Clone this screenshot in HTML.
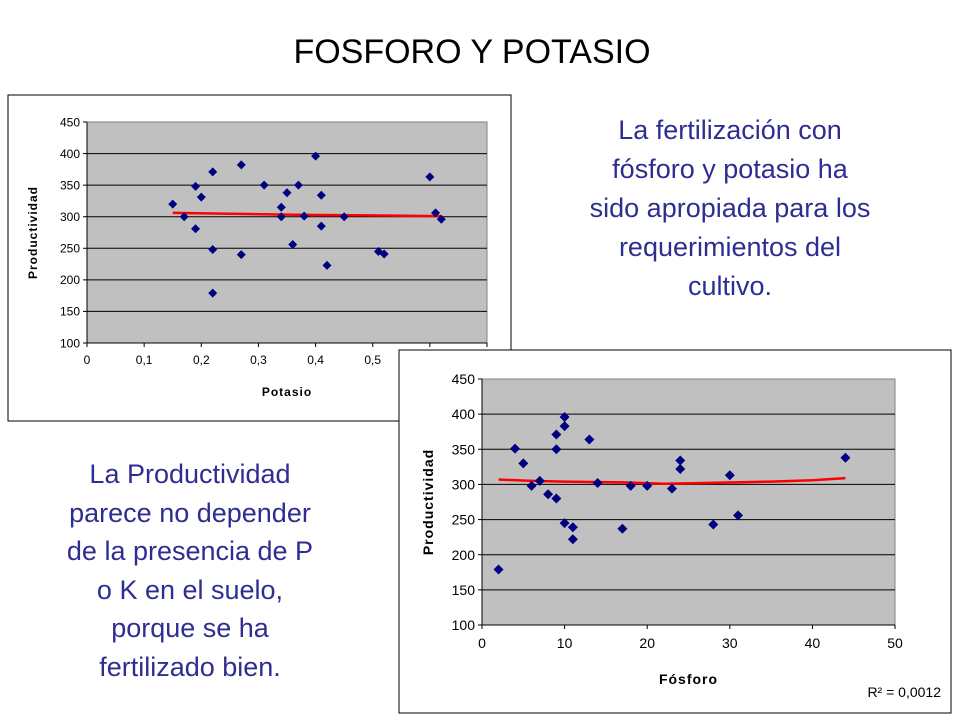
<!DOCTYPE html>
<html><head><meta charset="utf-8">
<style>
html,body{margin:0;padding:0;background:#fff;}
body{width:960px;height:720px;position:relative;overflow:hidden;font-family:"Liberation Sans",Arial,sans-serif;}
.t{position:absolute;text-align:center;color:#2e2e92;font-size:27px;line-height:39px;}
</style></head>
<body>
<div style="position:absolute;left:0;width:944px;top:33px;text-align:center;font-size:34px;color:#000;">FOSFORO Y POTASIO</div>
<div class="t" style="left:540px;width:380px;top:111px;">La fertilización con<br>fósforo y potasio ha<br>sido apropiada para los<br>requerimientos del<br>cultivo.</div>
<div class="t" style="left:20px;width:340px;top:455px;line-height:38.5px;">La Productividad<br>parece no depender<br>de la presencia de P<br>o K en el suelo,<br>porque se ha<br>fertilizado bien.</div>
<svg id="svg" width="960" height="720" style="position:absolute;left:0;top:0"></svg>
<script>
// Chart 1 (Potasio)
const kX=[0.15,0.17,0.19,0.19,0.20,0.22,0.22,0.22,0.27,0.27,0.31,0.34,0.34,0.35,0.36,0.37,0.38,0.40,0.41,0.41,0.42,0.45,0.51,0.52,0.60,0.61,0.62];
const kY=[320,300,348,281,331,371,248,179,382,240,350,315,300,338,256,350,301,396,334,285,223,300,245,241,363,306,296];
const kTrendX=[0.15,0.38,0.62];
const kTrendY=[306,303,301];
const kXTicks=[0,0.1,0.2,0.3,0.4,0.5,0.6,0.7];
const kXTickLabels=["0","0,1","0,2","0,3","0,4","0,5","0,6","0,7"];
const yTicks=[100,150,200,250,300,350,400,450];
// Chart 2 (Fosforo)
const pX=[2,4,5,6,7,8,9,9,9,10,10,10,11,11,13,14,17,18,20,23,24,24,28,30,31,44];
const pY=[179,351,330,298,305,286,371,350,280,396,383,245,239,222,364,302,237,298,298,294,334,322,243,313,256,338];
const pTrendX=[2,6,10,17,22,27,35,40,44];
const pTrendY=[307,305,304,303,301,302,304,306,309];
const pXTicks=[0,10,20,30,40,50];

const NS="http://www.w3.org/2000/svg";
const svg=document.getElementById('svg');
function el(tag,attrs,parent){const e=document.createElementNS(NS,tag);for(const k in attrs)e.setAttribute(k,attrs[k]);(parent||svg).appendChild(e);return e;}

function chart(cfg){
  const g=el('g',{});
  
  
  const fr=el('rect',{x:cfg.box[0],y:cfg.box[1],width:cfg.box[2],height:cfg.box[3],fill:'#fff',stroke:'#000','stroke-width':1},g);
  
  
  const [L,T,R,B]=cfg.plot;
  const sx=v=>L+(v-cfg.xmin)/(cfg.xmax-cfg.xmin)*(R-L);
  const sy=v=>B-(v-100)/350*(B-T);
  const pa=el('rect',{x:L,y:T,width:R-L,height:B-T,fill:'#c0c0c0',stroke:'#808080'},g);
  
  
  yTicks.forEach(v=>{
    if(v>100&&v<450){const gl=el('line',{x1:L,x2:R,y1:sy(v),y2:sy(v),stroke:'#000','stroke-width':1},g);
      }
    el('line',{x1:L-4,x2:L,y1:sy(v),y2:sy(v),stroke:'#000'},g);
    const t=el('text',{x:L-7,y:sy(v)+cfg.fs*0.36,'text-anchor':'end','font-size':cfg.fs,fill:'#000'},g);
    t.textContent=v;
    
  });
  el('line',{x1:L,x2:L,y1:T,y2:B,stroke:'#000'},g);
  el('line',{x1:L,x2:R,y1:B,y2:B,stroke:'#000'},g);
  cfg.xticks.forEach((v,i)=>{
    el('line',{x1:sx(v),x2:sx(v),y1:B,y2:B+4,stroke:'#000'},g);
    const t=el('text',{x:sx(v),y:B+cfg.fs+9,'text-anchor':'middle','font-size':cfg.fs,fill:'#000'},g);
    t.textContent=cfg.xlabels[i];
    
  });
  const xt=el('text',{x:(L+R)/2,y:cfg.xtY,'text-anchor':'middle','font-size':cfg.fs,'font-weight':'bold',fill:'#000','letter-spacing':'1'},g);
  xt.textContent=cfg.xtitle;
  const yt=el('text',{x:0,y:0,'text-anchor':'middle','font-size':cfg.fs,'font-weight':'bold',fill:'#000','letter-spacing':'1',transform:`translate(${cfg.ytX},${(T+B)/2}) rotate(-90)`},g);
  yt.textContent='Productividad';
  const d=cfg.tx.map((v,i)=>(i?'L':'M')+sx(v)+','+sy(cfg.ty[i])).join('');
  const tl=el('path',{d:d,fill:'none',stroke:'#ff0000','stroke-width':2.5},g);
  
  const r=cfg.ms;
  cfg.x.forEach((v,i)=>{
    const cx=sx(v),cy=sy(cfg.y[i]);
    const p=el('polygon',{points:`${cx},${cy-r} ${cx+r},${cy} ${cx},${cy+r} ${cx-r},${cy}`,fill:'#000080'},g);
    
  });
  return g;
}
chart({name:'potasio-chart',box:[8,95,503,326],plot:[87,122,487,343],xmin:0,xmax:0.7,xticks:kXTicks,xlabels:kXTickLabels,
  x:kX,y:kY,tx:kTrendX,ty:kTrendY,fs:12,xtitle:'Potasio',xtY:396,ytX:37,ms:4.5});
const g2=chart({name:'fosforo-chart',box:[399,350,552,363],plot:[482,379,895,625],xmin:0,xmax:50,xticks:pXTicks,xlabels:pXTicks.map(String),
  x:pX,y:pY,tx:pTrendX,ty:pTrendY,fs:14,xtitle:'Fósforo',xtY:684,ytX:433,ms:5});
const r2=el('text',{x:941,y:697,'text-anchor':'end','font-size':14,fill:'#000'},g2);
r2.textContent='R² = 0,0012';


</script>
</body></html>
